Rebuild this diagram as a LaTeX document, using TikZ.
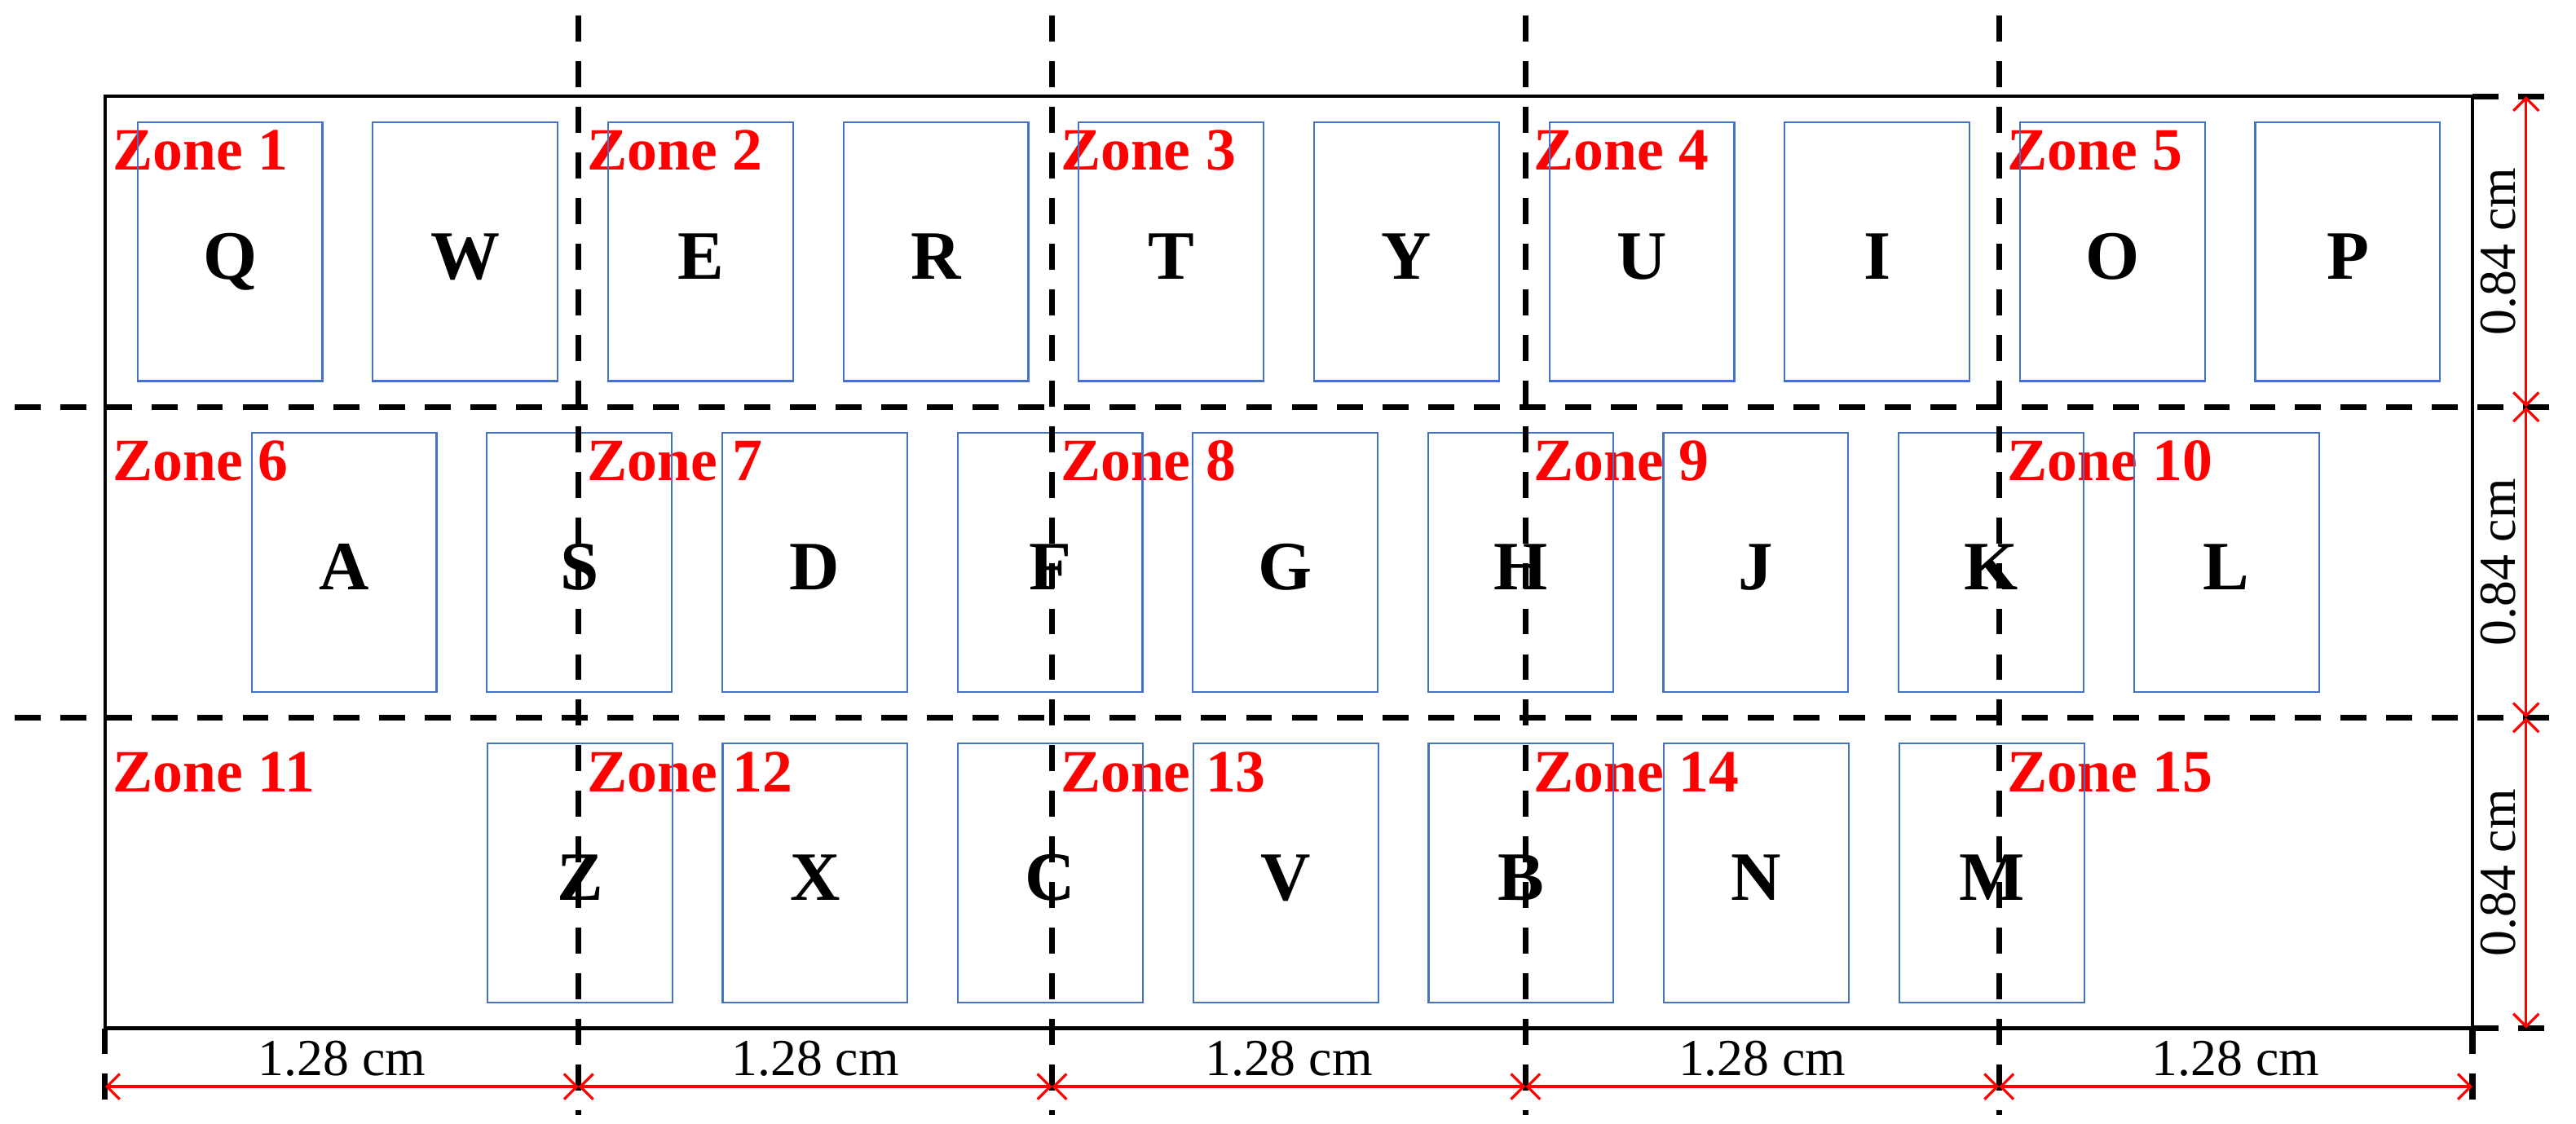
\documentclass[tikz,border=0pt]{standalone}
\usepackage{fontspec}
\setmainfont{Liberation Serif}
\usetikzlibrary{positioning}
\usetikzlibrary{arrows.meta}
\definecolor{keyblue}{RGB}{68,114,196}

\begin{document}
\begin{tikzpicture}[x=2.2516cm, y=2.2516cm,
	key/.style={draw=keyblue, line width=0.3pt, minimum width=1.1258cm, minimum height=1.5761cm, inner sep=0pt, text height=9.6pt, text depth=0pt, font=\fontsize{12}{14}\selectfont\bfseries},
	zone/.style={anchor=base west, inner sep=0pt, text=red, font=\fontsize{10.4}{12}\selectfont\bfseries},
	split/.style={line width=1pt, dash pattern=on 4.5pt off 3.4pt},
	dim/.style={red, line width=0.45pt, {Straight Barb[length=2.2pt,width=4.4pt]}-{Straight Barb[length=2.2pt,width=4.4pt]}},
	dimtext/.style={midway, above=1.5pt, sloped, inner sep=0pt, text=black, font=\fontsize{9}{10}\selectfont}]
		\useasboundingbox (-0.2842,-0.2576) rectangle (6.6800,2.7802);
		\draw[line width=0.6pt] (0,0) rectangle (6.4,2.52);

		\node (z1) [zone] at (0.018,2.32) {Zone 1};
		\node (z2) [zone] at (1.300,2.32) {Zone 2};
		\node (z3) [zone] at (2.580,2.32) {Zone 3};
		\node (z4) [zone] at (3.860,2.32) {Zone 4};
		\node (z5) [zone] at (5.140,2.32) {Zone 5};
		\node (z6) [zone] at (0.018,1.48) {Zone 6};
		\node (z7) [zone] at (1.300,1.48) {Zone 7};
		\node (z8) [zone] at (2.580,1.48) {Zone 8};
		\node (z9) [zone] at (3.860,1.48) {Zone 9};
		\node (z10) [zone] at (5.140,1.48) {Zone 10};
		\node (z11) [zone] at (0.018,0.64) {Zone 11};
		\node (z12) [zone] at (1.300,0.64) {Zone 12};
		\node (z13) [zone] at (2.580,0.64) {Zone 13};
		\node (z14) [zone] at (3.860,0.64) {Zone 14};
		\node (z15) [zone] at (5.140,0.64) {Zone 15};

		\node (q) [key] at (0.3375,2.10) {Q};
		\node (w) [key, right=0.296cm of q] {W};
		\node (e) [key, right=0.296cm of w] {E};
		\node (r) [key, right=0.296cm of e] {R};
		\node (t) [key, right=0.296cm of r] {T};
		\node (y) [key, right=0.296cm of t] {Y};
		\node (u) [key, right=0.296cm of y] {U};
		\node (i) [key, right=0.296cm of u] {I};
		\node (o) [key, right=0.296cm of i] {O};
		\node (p) [key, right=0.296cm of o] {P};

		\node (a) [key] at (0.646,1.26) {A};
		\node (s) [key, right=0.296cm of a] {S};
		\node (d) [key, right=0.296cm of s] {D};
		\node (f) [key, right=0.296cm of d] {F};
		\node (g) [key, right=0.296cm of f] {G};
		\node (h) [key, right=0.296cm of g] {H};
		\node (j) [key, right=0.296cm of h] {J};
		\node (k) [key, right=0.296cm of j] {K};
		\node (l) [key, right=0.296cm of k] {L};

		\node (zz) [key] at (1.2835,0.42) {Z};
		\node (x) [key, right=0.296cm of zz] {X};
		\node (c) [key, right=0.296cm of x] {C};
		\node (v) [key, right=0.296cm of c] {V};
		\node (b) [key, right=0.296cm of v] {B};
		\node (n) [key, right=0.296cm of b] {N};
		\node (m) [key, right=0.296cm of n] {M};

		\coordinate (v1t) at (1.28,2.738);
		\coordinate (v1b) at (1.28,-0.235);
		\coordinate (v2t) at (2.56,2.738);
		\coordinate (v2b) at (2.56,-0.235);
		\coordinate (v3t) at (3.84,2.738);
		\coordinate (v3b) at (3.84,-0.235);
		\coordinate (v4t) at (5.12,2.738);
		\coordinate (v4b) at (5.12,-0.235);
		\coordinate (h1l) at (-0.245,1.68);
		\coordinate (h1r) at (6.64,1.68);
		\coordinate (h2l) at (-0.245,0.84);
		\coordinate (h2r) at (6.64,0.84);
		\coordinate (c0t) at (6.4,2.52);
		\coordinate (c0r) at (6.61,2.52);
		\coordinate (c1b) at (6.4,0);
		\coordinate (c1r) at (6.61,0);
		\coordinate (c1d) at (6.4,-0.235);
		\coordinate (c2b) at (0,0);
		\coordinate (c2d) at (0,-0.235);
		\draw[split] (v1t) -- (v1b);
		\draw[split] (v2t) -- (v2b);
		\draw[split] (v3t) -- (v3b);
		\draw[split] (v4t) -- (v4b);
		\draw[split] (h1l) -- (h1r);
		\draw[split] (h2l) -- (h2r);
		\draw[split] (c0t) -- (c0r);
		\draw[split] (c1b) -- (c1r);
		\draw[split] (c1b) -- (c1d);
		\draw[split] (c2b) -- (c2d);

		\coordinate (d0) at (0,-0.1577);
		\coordinate (d1) at (1.28,-0.1577);
		\coordinate (d2) at (2.56,-0.1577);
		\coordinate (d3) at (3.84,-0.1577);
		\coordinate (d4) at (5.12,-0.1577);
		\coordinate (d5) at (6.4,-0.1577);
		\draw[dim] (d0) -- node[dimtext] {1.28 cm} (d1);
		\draw[dim] (d1) -- node[dimtext] {1.28 cm} (d2);
		\draw[dim] (d2) -- node[dimtext] {1.28 cm} (d3);
		\draw[dim] (d3) -- node[dimtext] {1.28 cm} (d4);
		\draw[dim] (d4) -- node[dimtext] {1.28 cm} (d5);

		\coordinate (r0) at (6.545,0);
		\coordinate (r1) at (6.545,0.84);
		\coordinate (r2) at (6.545,1.68);
		\coordinate (r3) at (6.545,2.52);
		\draw[dim] (r0) -- node[dimtext] {0.84 cm} (r1);
		\draw[dim] (r1) -- node[dimtext] {0.84 cm} (r2);
		\draw[dim] (r2) -- node[dimtext] {0.84 cm} (r3);
\end{tikzpicture}
\end{document}
